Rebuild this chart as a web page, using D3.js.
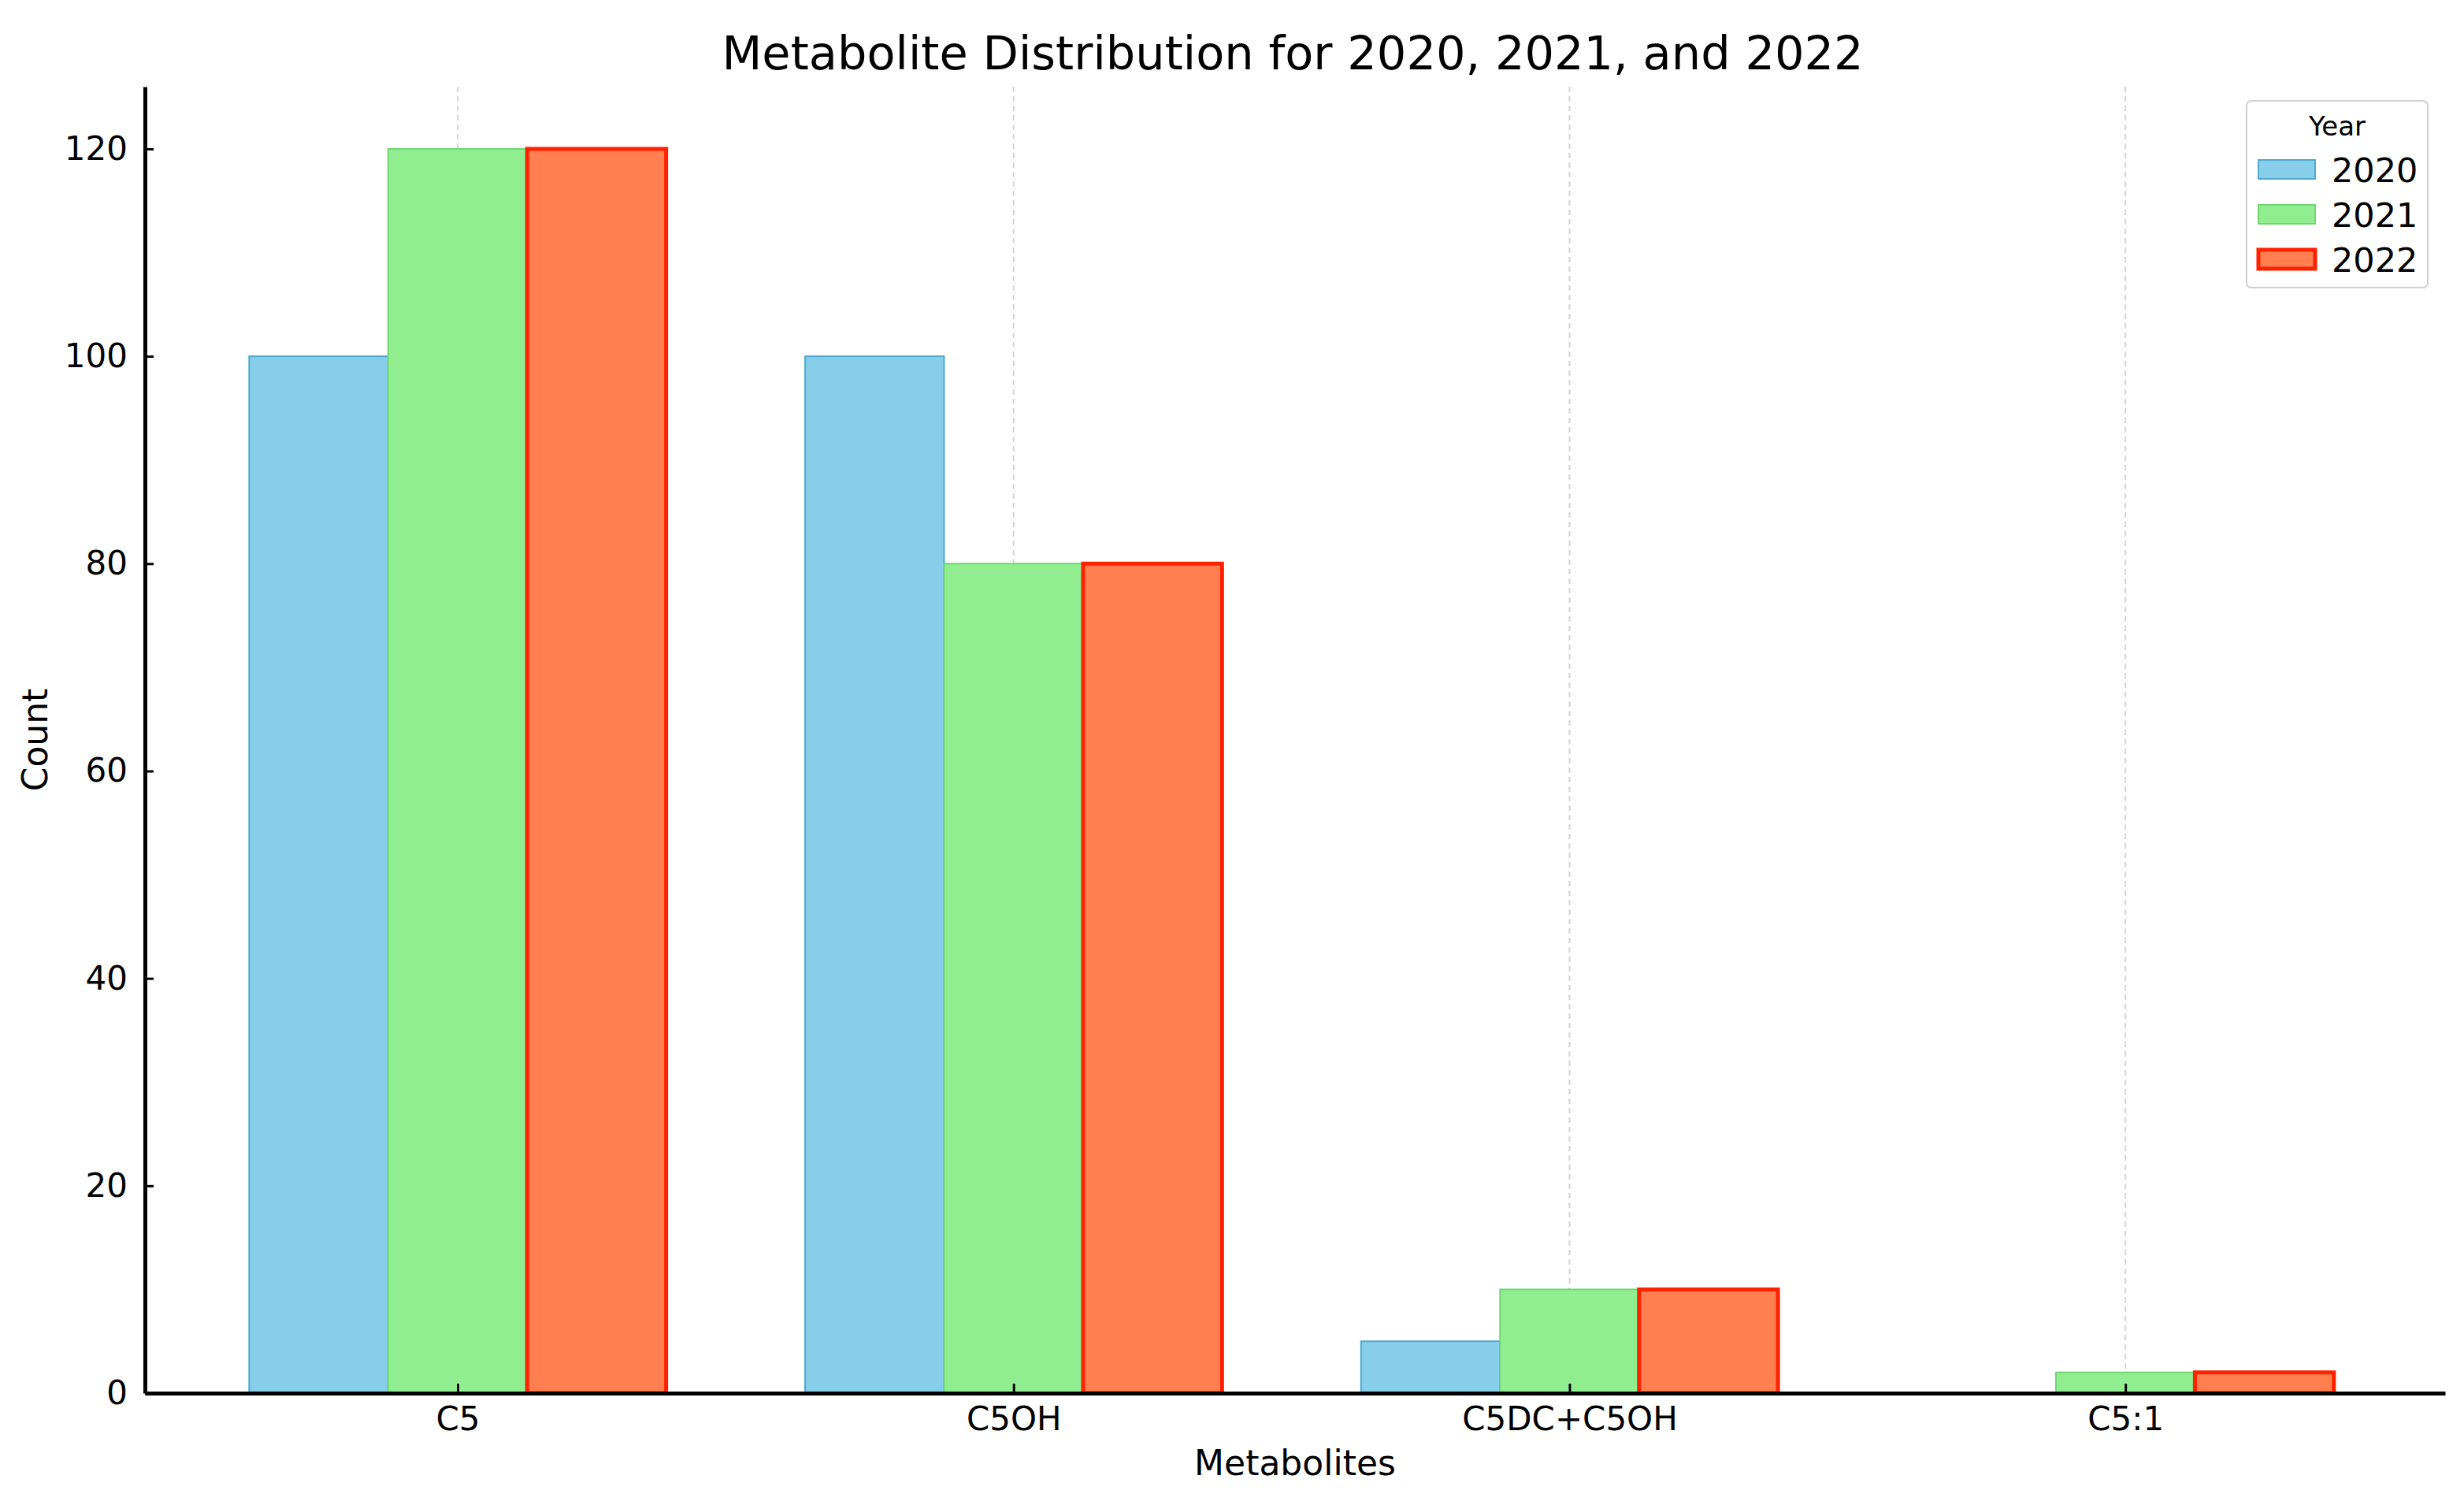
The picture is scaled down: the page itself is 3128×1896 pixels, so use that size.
<!DOCTYPE html>
<html>
<head>
<meta charset="utf-8">
<script src="https://cdn.jsdelivr.net/npm/d3@7"></script>
<style>
  html, body { margin: 0; padding: 0; background: #fff; }
  text { font-family: "DejaVu Sans", sans-serif; fill: #000; }
</style>
</head>
<body>
<svg id="chart"></svg>
<script>
// Данные графика
const metabolites = ["C5", "C5OH", "C5DC+C5OH", "C5:1"];
const years = ["2020", "2021", "2022"];
const values2020 = [100, 100, 5, 0];
const values2021 = [120, 80, 10, 2];
const values2022 = [120, 80, 10, 2];
const yTicks = [0, 20, 40, 60, 80, 100, 120];

const series = [values2020, values2021, values2022];
const fills = ["#87CEEB", "#90EE90", "#FF7F50"];
const strokes = ["#4fa9cf", "#72d672", "#ff2200"];
const strokeWidths = [2, 2, 5];

// Размеры
const W = 3128, H = 1896;
const margin = { top: 110, right: 24, bottom: 128, left: 184 };
const width = W - margin.left - margin.right,
  height = H - margin.top - margin.bottom;

const svg = d3.select("#chart").attr("width", W).attr("height", H);
const g = svg.append("g")
  .attr("transform", "translate(" + margin.left + "," + margin.top + ")");

// Шкалы (как в matplotlib: бары шириной 0.25, поля 5%)
const barW = 0.25;
const x = d3.scaleLinear().domain([-0.5625, 3.575]).range([0, width]);
const y = d3.scaleLinear().domain([0, 126]).range([height, 0]);

// Вертикальная сетка
g.append("g")
  .selectAll("line")
  .data(metabolites)
  .enter()
  .append("line")
  .attr("x1", (d, i) => x(i))
  .attr("x2", (d, i) => x(i))
  .attr("y1", 0)
  .attr("y2", height)
  .attr("stroke", "#d4d4d4")
  .attr("stroke-width", 2)
  .attr("stroke-dasharray", "7,5");

// Столбцы
series.forEach((vals, s) => {
  g.append("g")
    .selectAll("rect")
    .data(vals)
    .enter()
    .append("rect")
    .attr("x", (d, i) => x(i + (s - 1) * barW - barW / 2))
    .attr("width", x(barW) - x(0))
    .attr("y", (d) => y(d))
    .attr("height", (d) => y(0) - y(d))
    .attr("fill", fills[s])
    .attr("stroke", (d) => (d > 0 ? strokes[s] : "none"))
    .attr("stroke-width", strokeWidths[s]);
});

// Оси
const xAxis = g.append("g")
  .attr("transform", "translate(0," + height + ")")
  .call(
    d3.axisBottom(x)
      .tickValues(d3.range(metabolites.length))
      .tickFormat((i) => metabolites[i])
      .tickSizeInner(-12)
      .tickSizeOuter(0)
      .tickPadding(17)
  );
xAxis.select(".domain").attr("stroke", "#000").attr("stroke-width", 5);
xAxis.selectAll(".tick line").attr("stroke", "#000").attr("stroke-width", 3);
xAxis.selectAll(".tick text")
  .style("font-family", "DejaVu Sans")
  .style("font-size", "42px")
  .attr("fill", "#000");

const yAxis = g.append("g")
  .call(
    d3.axisLeft(y)
      .tickValues(yTicks)
      .tickSizeInner(-11)
      .tickSizeOuter(0)
      .tickPadding(22)
  );
yAxis.select(".domain").attr("stroke", "#000").attr("stroke-width", 5);
yAxis.selectAll(".tick line").attr("stroke", "#000").attr("stroke-width", 3);
yAxis.selectAll(".tick text")
  .style("font-family", "DejaVu Sans")
  .style("font-size", "42px")
  .attr("fill", "#000");

// Подписи
svg.append("text")
  .attr("x", 1641)
  .attr("y", 88)
  .attr("text-anchor", "middle")
  .style("font-size", "59px")
  .text("Metabolite Distribution for 2020, 2021, and 2022");

svg.append("text")
  .attr("x", 1644)
  .attr("y", 1872)
  .attr("text-anchor", "middle")
  .style("font-size", "44px")
  .text("Metabolites");

svg.append("text")
  .attr("transform", "translate(60," + (margin.top + height / 2) + ") rotate(-90)")
  .attr("text-anchor", "middle")
  .style("font-size", "44px")
  .text("Count");

// Легенда
const legend = svg.append("g").attr("transform", "translate(2852,128)");
legend.append("rect")
  .attr("width", 230)
  .attr("height", 237)
  .attr("rx", 6)
  .attr("fill", "#fff")
  .attr("stroke", "#d0d0d0")
  .attr("stroke-width", 2);
legend.append("text")
  .attr("x", 115)
  .attr("y", 44)
  .attr("text-anchor", "middle")
  .style("font-size", "34px")
  .text("Year");

const items = legend.selectAll(".item")
  .data(years)
  .enter()
  .append("g")
  .attr("class", "item")
  .attr("transform", (d, i) => "translate(0," + (75 + i * 57) + ")");
items.append("rect")
  .attr("x", 15)
  .attr("width", 72)
  .attr("height", 24)
  .attr("fill", (d, i) => fills[i])
  .attr("stroke", (d, i) => strokes[i])
  .attr("stroke-width", (d, i) => strokeWidths[i]);
items.append("text")
  .attr("x", 108)
  .attr("y", 28)
  .style("font-size", "43px")
  .text((d) => d);
</script>
</body>
</html>
